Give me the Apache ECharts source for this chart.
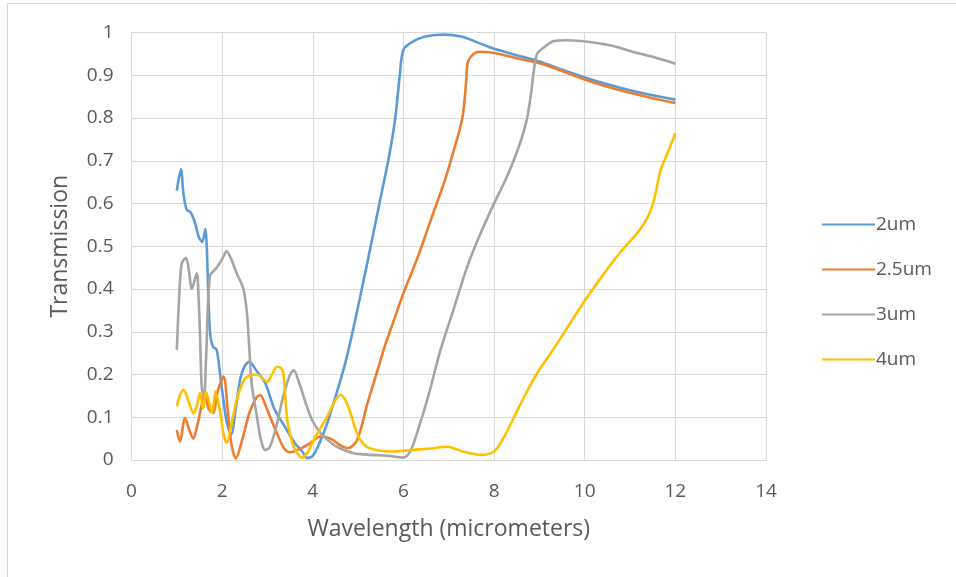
<!DOCTYPE html>
<html>
<head>
<meta charset="utf-8">
<script src="https://cdn.jsdelivr.net/npm/echarts@6/dist/echarts.min.js"></script>
<style>
  html, body { margin: 0; padding: 0; background: #fff; }
  #chart { width: 956px; height: 577px; }
</style>
</head>
<body>
<div id="chart"></div>
<script>
// Transmission spectra for four feature sizes, [wavelength (um), transmission]
const seriesNames = ['2um', '2.5um', '3um', '4um'];
const seriesColors = ['#5B9BD5', '#ED7D31', '#A5A5A5', '#FFC000'];

const trans2um = [
  [1.0,0.63],[1.09,0.68],[1.15,0.62],[1.22,0.585],[1.3,0.58],[1.4,0.555],[1.48,0.523],
  [1.56,0.51],[1.63,0.54],[1.66,0.50],[1.70,0.37],[1.74,0.29],[1.80,0.265],[1.88,0.258],
  [1.99,0.17],[2.1,0.09],[2.2,0.06],[2.3,0.12],[2.4,0.19],[2.5,0.22],[2.6,0.23],
  [2.75,0.21],[2.95,0.18],[3.15,0.12],[3.39,0.077],[3.6,0.04],[3.77,0.02],[3.87,0.005],
  [4.0,0.01],[4.15,0.04],[4.3,0.08],[4.45,0.13],[4.7,0.22],[4.9,0.31],[5.2,0.46],
  [5.49,0.61],[5.7,0.72],[5.82,0.80],[5.92,0.90],[6.0,0.96],[6.2,0.978],[6.4,0.988],
  [6.7,0.994],[6.9,0.995],[7.3,0.99],[7.6,0.978],[8.0,0.962],[8.5,0.947],[9.0,0.932],
  [9.5,0.913],[10.0,0.895],[10.5,0.879],[11.0,0.865],[11.5,0.853],[12.0,0.843]
];

const trans25um = [
  [1.0,0.07],[1.07,0.043],[1.18,0.098],[1.29,0.066],[1.36,0.05],[1.45,0.08],[1.55,0.13],
  [1.62,0.16],[1.7,0.12],[1.8,0.11],[1.9,0.16],[2.03,0.195],[2.12,0.12],[2.2,0.04],
  [2.3,0.004],[2.45,0.05],[2.6,0.11],[2.75,0.145],[2.84,0.152],[2.95,0.13],[3.1,0.09],
  [3.21,0.063],[3.35,0.03],[3.5,0.018],[3.72,0.026],[3.95,0.04],[4.17,0.055],[4.39,0.05],
  [4.6,0.035],[4.78,0.028],[4.98,0.047],[5.2,0.13],[5.4,0.2],[5.6,0.27],[5.8,0.33],
  [6.0,0.39],[6.3,0.47],[6.6,0.56],[6.9,0.65],[7.1,0.72],[7.3,0.80],[7.38,0.88],
  [7.42,0.93],[7.55,0.95],[7.7,0.955],[8.0,0.952],[8.5,0.94],[9.0,0.928],[9.5,0.91],
  [10.0,0.89],[10.5,0.873],[11.0,0.859],[11.5,0.846],[12.0,0.835]
];

const trans3um = [
  [1.0,0.258],[1.06,0.40],[1.11,0.46],[1.2,0.473],[1.27,0.44],[1.33,0.40],[1.44,0.437],
  [1.48,0.38],[1.51,0.30],[1.55,0.17],[1.6,0.15],[1.65,0.25],[1.73,0.43],[1.88,0.45],
  [2.0,0.47],[2.1,0.488],[2.2,0.47],[2.32,0.437],[2.47,0.40],[2.55,0.34],[2.6,0.26],
  [2.65,0.18],[2.77,0.10],[2.85,0.05],[2.95,0.023],[3.05,0.03],[3.2,0.08],[3.35,0.15],
  [3.5,0.2],[3.58,0.21],[3.7,0.18],[3.87,0.125],[4.0,0.09],[4.17,0.063],[4.35,0.045],
  [4.53,0.031],[4.9,0.016],[5.3,0.012],[5.64,0.01],[6.0,0.006],[6.15,0.02],[6.3,0.063],
  [6.55,0.15],[6.82,0.258],[7.1,0.35],[7.41,0.453],[7.7,0.53],[8.0,0.60],[8.25,0.655],
  [8.43,0.70],[8.6,0.75],[8.73,0.80],[8.82,0.86],[8.88,0.913],[8.95,0.95],[9.1,0.965],
  [9.32,0.98],[9.6,0.982],[9.91,0.98],[10.3,0.975],[10.65,0.968],[11.0,0.957],
  [11.5,0.943],[12.0,0.927]
];

const trans4um = [
  [1.0,0.125],[1.08,0.155],[1.15,0.164],[1.25,0.14],[1.37,0.109],[1.45,0.13],[1.51,0.157],
  [1.58,0.12],[1.64,0.16],[1.7,0.14],[1.78,0.11],[1.85,0.16],[1.96,0.11],[2.03,0.06],
  [2.1,0.04],[2.2,0.08],[2.32,0.14],[2.45,0.18],[2.55,0.195],[2.77,0.2],[2.99,0.183],
  [3.1,0.2],[3.21,0.218],[3.3,0.215],[3.35,0.203],[3.43,0.10],[3.5,0.06],[3.58,0.031],
  [3.76,0.005],[3.9,0.02],[4.02,0.047],[4.31,0.10],[4.5,0.14],[4.61,0.152],[4.72,0.14],
  [4.83,0.11],[4.95,0.07],[5.05,0.047],[5.2,0.03],[5.42,0.023],[5.8,0.02],[6.15,0.023],
  [6.6,0.027],[6.97,0.031],[7.3,0.02],[7.7,0.012],[8.0,0.02],[8.2,0.05],[8.44,0.10],
  [8.7,0.155],[8.95,0.203],[9.25,0.25],[9.54,0.297],[9.8,0.34],[10.06,0.382],[10.35,0.425],
  [10.65,0.468],[10.9,0.5],[11.16,0.531],[11.4,0.57],[11.53,0.609],[11.68,0.68],
  [11.83,0.718],[12.0,0.765]
];

const seriesData = [trans2um, trans25um, trans3um, trans4um];

const font = '"Open Sans", "Noto Sans", sans-serif';
const textColor = '#595959';
const gridColor = '#D9D9D9';

const chart = echarts.init(document.getElementById('chart'), null, { renderer: 'canvas' });

chart.setOption({
  animation: false,
  backgroundColor: '#fff',
  graphic: [{
    type: 'rect',
    shape: { x: 7.5, y: 3.5, width: 1000, height: 700 },
    style: { fill: 'none', stroke: gridColor, lineWidth: 1 },
    silent: true
  }],
  grid: { left: 131.5, right: 190, top: 32.5, bottom: 117 },
  legend: {
    orient: 'vertical',
    left: 817,
    top: 210,
    itemWidth: 53,
    itemHeight: 14,
    itemGap: 26,
    icon: 'path://M0,6 L53,6 L53,8 L0,8 Z',
    textStyle: { fontFamily: font, fontSize: 19, color: textColor, padding: [0, 0, 0, -4] },
    data: seriesNames
  },
  xAxis: {
    type: 'value',
    min: 0, max: 14, interval: 2,
    name: 'Wavelength (micrometers)',
    nameLocation: 'middle',
    nameGap: 58,
    nameTextStyle: { fontFamily: font, fontSize: 23, color: textColor },
    axisLine: { show: true, lineStyle: { color: gridColor, width: 1 } },
    axisTick: { show: false },
    axisLabel: { fontFamily: font, fontSize: 19, color: textColor, margin: 22 },
    splitLine: { show: true, lineStyle: { color: gridColor, width: 1 } }
  },
  yAxis: {
    type: 'value',
    min: 0, max: 1, interval: 0.1,
    name: 'Transmission',
    nameLocation: 'middle',
    nameGap: 60,
    nameTextStyle: { fontFamily: font, fontSize: 23, color: textColor },
    axisLine: { show: false },
    axisTick: { show: false },
    axisLabel: { fontFamily: font, fontSize: 19, color: textColor, margin: 18 },
    splitLine: { show: true, lineStyle: { color: gridColor, width: 1 } }
  },
  series: seriesData.map((d, i) => ({
    name: seriesNames[i],
    type: 'line',
    data: d,
    smooth: 0.3,
    symbol: 'none',
    lineStyle: { color: seriesColors[i], width: 2.6 },
    itemStyle: { color: seriesColors[i] },
    z: 2 + i
  }))
});
</script>
</body>
</html>
